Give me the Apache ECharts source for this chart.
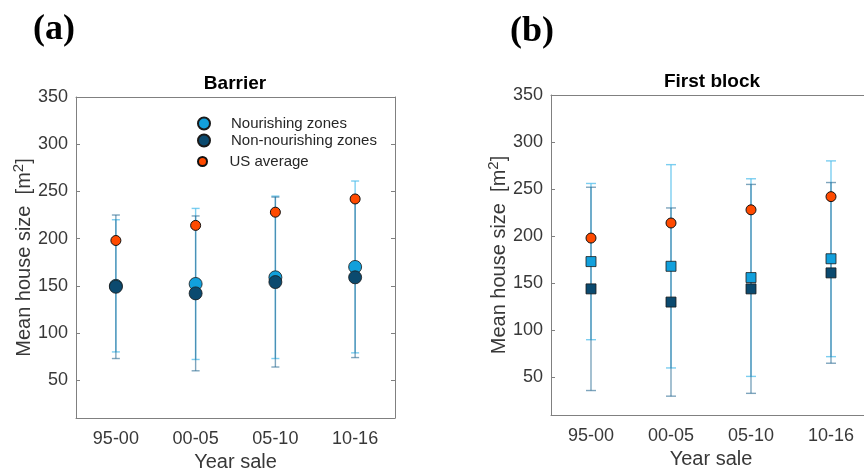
<!DOCTYPE html>
<html>
<head>
<meta charset="utf-8">
<script src="https://cdn.jsdelivr.net/npm/echarts@6/dist/echarts.min.js"></script>
<style>
  html, body { margin: 0; padding: 0; background: #fff; }
  #chart { width: 864px; height: 468px; }
</style>
</head>
<body>
<div id="chart"></div>
<script>
// periods of sale
const categories = ['95-00', '00-05', '05-10', '10-16']
const yTicks = [50, 100, 150, 200, 250, 300, 350]

// US average (same in both panels)
const usAverage = [198, 214, 228, 242]

// (a) Barrier: mean and std
const barrierNour = [150, 152, 159, 170]
const barrierNourSd = [70, 80, 86, 91]
const barrierNon = [149, 142, 154, 159]
const barrierNonSd = [76, 82, 90, 85]

// (b) First block: mean and std
const blockNour = [173, 168, 156, 176]
const blockNourSd = [83, 108, 105, 104]
const blockNon = [144, 130, 144, 161]
const blockNonSd = [108, 100, 111, 96]

const LIGHT = '#12a0dc'
const DARK = '#0b4a6f'
const ORANGE = '#ff4a00'
const AXIS = '#808080'
const TEXT = '#383838'
const FONT = 'Liberation Sans'

function errorBars(capHalf, color) {
  return function (params, api) {
    const x = api.value(0)
    const y = api.value(1)
    const sd = api.value(2)
    const hi = api.coord([x, y + sd])
    const lo = api.coord([x, y - sd])
    const st = { stroke: color, lineWidth: 1.4 }
    return {
      type: 'group',
      children: [
        { type: 'line', shape: { x1: hi[0], y1: hi[1], x2: lo[0], y2: lo[1] }, style: st },
        { type: 'line', shape: { x1: hi[0] - capHalf, y1: hi[1], x2: hi[0] + capHalf, y2: hi[1] }, style: st },
        { type: 'line', shape: { x1: lo[0] - capHalf, y1: lo[1], x2: lo[0] + capHalf, y2: lo[1] }, style: st }
      ]
    }
  }
}

function errData(mean, sd) {
  return mean.map((v, i) => [i, v, sd[i]])
}

function xAxes(gridIndex, nameGap) {
  return [
    {
      type: 'category', gridIndex, data: categories, position: 'bottom',
      name: 'Year sale', nameLocation: 'middle', nameGap,
      nameTextStyle: { fontFamily: FONT, fontSize: 20, color: TEXT },
      axisLine: { lineStyle: { color: AXIS } },
      axisTick: { inside: true, alignWithLabel: true, length: 4, lineStyle: { color: AXIS } },
      axisLabel: { fontFamily: FONT, fontSize: 18, color: TEXT, margin: 12 }
    },
    {
      type: 'category', gridIndex, data: categories, position: 'top',
      axisLine: { lineStyle: { color: AXIS } },
      axisTick: { inside: true, alignWithLabel: true, length: 4, lineStyle: { color: AXIS } },
      axisLabel: { show: false }
    }
  ]
}

function yAxes(gridIndex, nameGap) {
  return [
    {
      type: 'value', gridIndex, min: 10, max: 350, position: 'left',
      name: '{n|Mean house size  [m}{s|2}{n|]}', nameLocation: 'middle', nameGap,
      nameTextStyle: {
        fontFamily: FONT, fontSize: 20, color: TEXT,
        rich: {
          n: { fontFamily: FONT, fontSize: 20, color: TEXT },
          s: { fontFamily: FONT, fontSize: 15, color: TEXT, verticalAlign: 'top', padding: [0, 0, 10, 0] }
        }
      },
      axisLine: { show: true, lineStyle: { color: AXIS } },
      axisTick: { show: true, inside: true, length: 4, customValues: yTicks, lineStyle: { color: AXIS } },
      axisLabel: { fontFamily: FONT, fontSize: 18, color: TEXT, margin: 8, customValues: yTicks },
      splitLine: { show: false }
    },
    {
      type: 'value', gridIndex, min: 10, max: 350, position: 'right',
      axisLine: { show: true, lineStyle: { color: AXIS } },
      axisTick: { show: true, inside: true, length: 4, customValues: yTicks, lineStyle: { color: AXIS } },
      axisLabel: { show: false },
      splitLine: { show: false }
    }
  ]
}

function panelSeries(axisBase, nour, nourSd, non, nonSd, symbol, size, cap) {
  const ax = { xAxisIndex: axisBase, yAxisIndex: axisBase }
  return [
    { type: 'custom', ...ax, renderItem: errorBars(cap, 'rgba(80,190,235,0.75)'), data: errData(nour, nourSd), silent: true, z: 2 },
    { type: 'custom', ...ax, renderItem: errorBars(cap, 'rgba(40,105,145,0.6)'), data: errData(non, nonSd), silent: true, z: 2 },
    {
      name: 'Nourishing zones', type: 'scatter', ...ax, data: nour, symbol, symbolSize: size,
      itemStyle: { color: LIGHT, borderColor: '#1a1a1a', borderWidth: 0.8, opacity: 1 }, z: 3
    },
    {
      name: 'Non-nourishing zones', type: 'scatter', ...ax, data: non, symbol, symbolSize: size,
      itemStyle: { color: DARK, borderColor: '#1a1a1a', borderWidth: 0.8, opacity: 1 }, z: 4
    },
    {
      name: 'US average', type: 'scatter', ...ax, data: usAverage, symbol: 'circle', symbolSize: 10,
      itemStyle: { color: ORANGE, borderColor: '#111', borderWidth: 1, opacity: 1 }, z: 5
    }
  ]
}

const chart = echarts.init(document.getElementById('chart'))

chart.setOption({
  animation: false,
  backgroundColor: '#fff',
  grid: [
    { left: 76, top: 97, width: 319, height: 321, outerBoundsMode: 'none' },
    { left: 551, top: 95, width: 320, height: 320, outerBoundsMode: 'none' }
  ],
  xAxis: [...xAxes(0, 30), ...xAxes(1, 34)],
  yAxis: [...yAxes(0, 35), ...yAxes(1, 39)],
  legend: [
    {
      data: ['Nourishing zones', 'Non-nourishing zones'],
      orient: 'vertical', left: 192, top: 111, itemGap: 2,
      itemWidth: 44, itemHeight: 12,
      textStyle: { fontFamily: FONT, fontSize: 15, color: '#262626' },
      selectedMode: false
    },
    {
      data: ['US average'],
      orient: 'vertical', left: 192, top: 149,
      itemWidth: 44, itemHeight: 9,
      textStyle: { fontFamily: FONT, fontSize: 15, color: '#262626' },
      selectedMode: false
    }
  ],
  graphic: [
    { type: 'text', x: 54, y: 30, style: { text: '(a)', align: 'center', verticalAlign: 'middle', fontFamily: 'Liberation Serif', fontWeight: 'bold', fontSize: 36, fill: '#000' } },
    { type: 'text', x: 532, y: 32, style: { text: '(b)', align: 'center', verticalAlign: 'middle', fontFamily: 'Liberation Serif', fontWeight: 'bold', fontSize: 36, fill: '#000' } },
    { type: 'text', x: 235, y: 84, style: { text: 'Barrier', align: 'center', verticalAlign: 'middle', fontFamily: FONT, fontWeight: 'bold', fontSize: 19, fill: '#000' } },
    { type: 'text', x: 712, y: 82, style: { text: 'First block', align: 'center', verticalAlign: 'middle', fontFamily: FONT, fontWeight: 'bold', fontSize: 19, fill: '#000' } }
  ],
  series: [
    ...panelSeries(0, barrierNour, barrierNourSd, barrierNon, barrierNonSd, 'circle', 13, 4),
    ...panelSeries(2, blockNour, blockNourSd, blockNon, blockNonSd, 'rect', 10, 5)
  ]
})
</script>
</body>
</html>
